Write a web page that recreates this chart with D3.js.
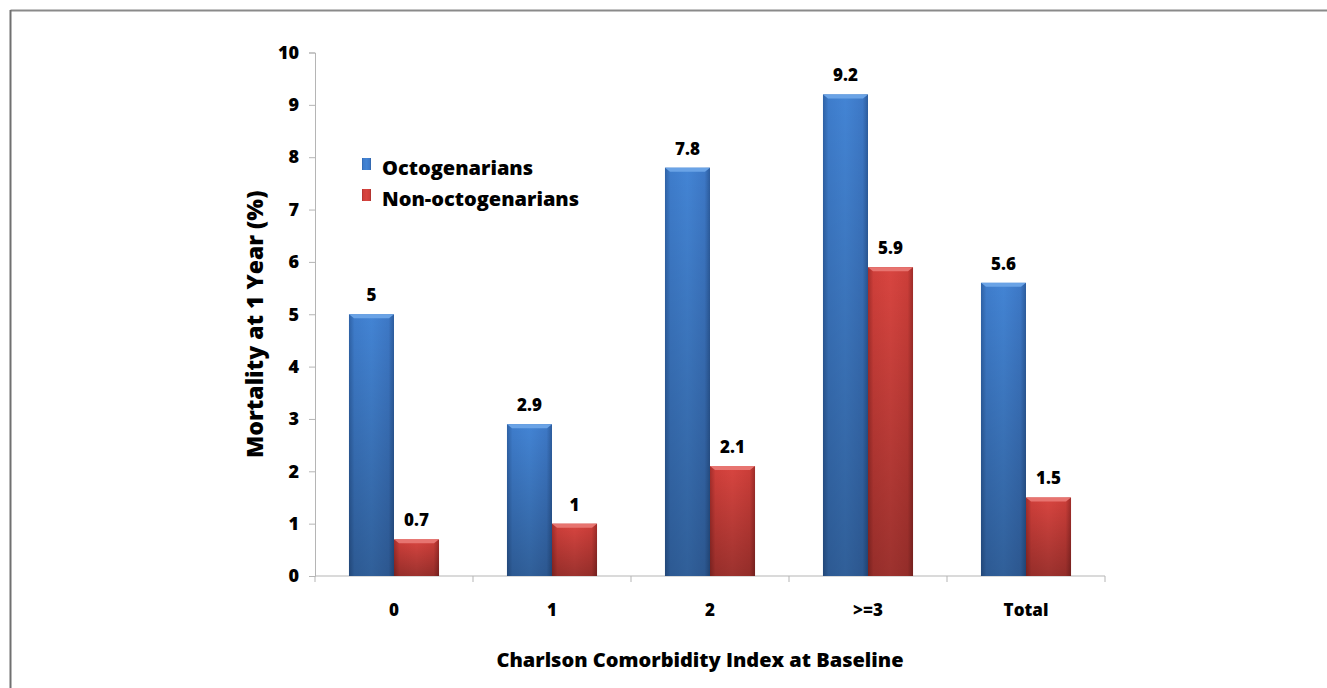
<!DOCTYPE html>
<html>
<head>
<meta charset="utf-8">
<script src="https://cdn.jsdelivr.net/npm/d3@7/dist/d3.min.js"></script>
<style>
  html, body { margin: 0; padding: 0; background: #fff; }
  svg { display: block; }
  text { font-family: "Open Sans", "Noto Sans", "DejaVu Sans", sans-serif; font-weight: 800; fill: #000; }
</style>
</head>
<body>
<svg id="chart" width="1327" height="688"></svg>
<script>
// Mortality at one year by Charlson Comorbidity Index
const categories = ["0", "1", "2", ">=3", "Total"];
const seriesNames = ["Octogenarians", "Non-octogenarians"];
const octogenarians = [5, 2.9, 7.8, 9.2, 5.6];
const nonOctogenarians = [0.7, 1, 2.1, 5.9, 1.5];
const yTicks = [0, 1, 2, 3, 4, 5, 6, 7, 8, 9, 10];

const svg = d3.select("#chart");
const W = 1327, H = 688;
const plot = { left: 315, right: 1105, top: 52.5, bottom: 576 };

// Frame: top and left edges only
svg.append("line").attr("x1", 10.5).attr("x2", W).attr("y1", 10.5).attr("y2", 10.5)
  .attr("stroke", "#8a8a8a").attr("stroke-width", 2);
svg.append("line").attr("x1", 10.5).attr("x2", 10.5).attr("y1", 10).attr("y2", H)
  .attr("stroke", "#707070").attr("stroke-width", 2);

// Gradients for the bevelled bars
const defs = svg.append("defs");
function addGrad(id, stops) {
  const g = defs.append("linearGradient").attr("id", id)
    .attr("x1", "0").attr("x2", "1").attr("y1", "0").attr("y2", "0");
  stops.forEach(s => g.append("stop").attr("offset", s[0]).attr("stop-color", s[1]));
}
addGrad("gBlue", [[0, "#2f62a6"], [0.12, "#3e7ccb"], [0.5, "#4384d4"], [0.88, "#3d78c6"], [1, "#2d5d9e"]]);
addGrad("gRed", [[0, "#a52e2b"], [0.12, "#cf3f3a"], [0.5, "#d84540"], [0.88, "#cc3e39"], [1, "#9e2c29"]]);
function addVGrad(id, top, bottom) {
  const g = defs.append("linearGradient").attr("id", id)
    .attr("x1", "0").attr("x2", "0").attr("y1", "0").attr("y2", "1");
  g.append("stop").attr("offset", 0).attr("stop-color", top).attr("stop-opacity", 0);
  g.append("stop").attr("offset", 1).attr("stop-color", bottom).attr("stop-opacity", 0.28);
}
addVGrad("shade", "#000", "#000");

const x0 = d3.scaleBand().domain(categories).range([plot.left, plot.right])
  .paddingInner(0.43).paddingOuter(0.215);
const x1 = d3.scaleBand().domain(seriesNames).range([0, x0.bandwidth()]);
const y = d3.scaleLinear().domain([0, 10]).range([plot.bottom, plot.top]);

const fills = { "Octogenarians": "url(#gBlue)", "Non-octogenarians": "url(#gRed)" };
const tops = { "Octogenarians": "#6aa3e6", "Non-octogenarians": "#e77470" };

const rows = categories.map((c, i) => ({
  cat: c,
  vals: [
    { s: seriesNames[0], v: octogenarians[i] },
    { s: seriesNames[1], v: nonOctogenarians[i] }
  ]
}));

// Axes
const yAxis = d3.axisLeft(y).tickValues(yTicks).tickSize(6).tickPadding(10);
const gy = svg.append("g").attr("transform", `translate(${plot.left},0)`).call(yAxis);
gy.select(".domain").attr("stroke", "#b5b5b5");
gy.selectAll(".tick line").attr("stroke", "#b5b5b5");
gy.selectAll(".tick text").style("font-size", "18px").attr("fill", "#000");

const xAxis = d3.axisBottom(x0).tickSize(0).tickPadding(28);
const gx = svg.append("g").attr("transform", `translate(0,${plot.bottom})`).call(xAxis);
gx.select(".domain").attr("stroke", "#b5b5b5").attr("d", `M${plot.left},0H${plot.right}`);
gx.selectAll(".tick text").style("font-size", "17px").attr("fill", "#000");
// category boundary ticks
const bounds = d3.range(categories.length + 1).map(i => plot.left + i * x0.step());
gx.selectAll(".bound").data(bounds).join("line").attr("class", "bound")
  .attr("x1", d => d).attr("x2", d => d).attr("y1", 0).attr("y2", 6)
  .attr("stroke", "#b5b5b5");

// Bars
const groups = svg.append("g").selectAll("g").data(rows).join("g")
  .attr("transform", d => `translate(${x0(d.cat)},0)`);

const bars = groups.selectAll("g.bar").data(d => d.vals).join("g").attr("class", "bar");
bars.append("rect")
  .attr("x", d => x1(d.s)).attr("width", x1.bandwidth())
  .attr("y", d => y(d.v)).attr("height", d => y(0) - y(d.v))
  .attr("fill", d => fills[d.s]);
bars.append("rect")
  .attr("x", d => x1(d.s)).attr("width", x1.bandwidth())
  .attr("y", d => y(d.v)).attr("height", d => y(0) - y(d.v))
  .attr("fill", "url(#shade)");
// top bevel
bars.append("path")
  .attr("d", d => {
    const xa = x1(d.s), xb = xa + x1.bandwidth(), yt = y(d.v);
    return `M${xa},${yt}H${xb}L${xb - 5},${yt + 4}H${xa + 5}Z`;
  })
  .attr("fill", d => tops[d.s]);

// Value labels
bars.append("text")
  .attr("x", d => x1(d.s) + x1.bandwidth() / 2)
  .attr("y", d => y(d.v) - 13)
  .attr("text-anchor", "middle")
  .style("font-size", "17px")
  .text(d => d.v);

// Axis titles
svg.append("text")
  .attr("transform", `translate(263,${(plot.top + plot.bottom) / 2 + 10}) rotate(-90)`)
  .attr("text-anchor", "middle")
  .style("font-size", "23px")
  .text("Mortality at 1 Year (%)");

svg.append("text")
  .attr("x", 700).attr("y", 667)
  .attr("text-anchor", "middle")
  .style("font-size", "20px")
  .text("Charlson Comorbidity Index at Baseline");

// Legend
const legend = svg.append("g").attr("transform", "translate(362,158)");
const li = legend.selectAll("g").data(seriesNames).join("g")
  .attr("transform", (d, i) => `translate(0,${i * 31})`);
li.append("rect").attr("width", 9).attr("height", 12)
  .attr("fill", d => fills[d]);
li.append("text").attr("x", 20).attr("y", 17)
  .style("font-size", "20px")
  .text(d => d);
</script>
</body>
</html>
